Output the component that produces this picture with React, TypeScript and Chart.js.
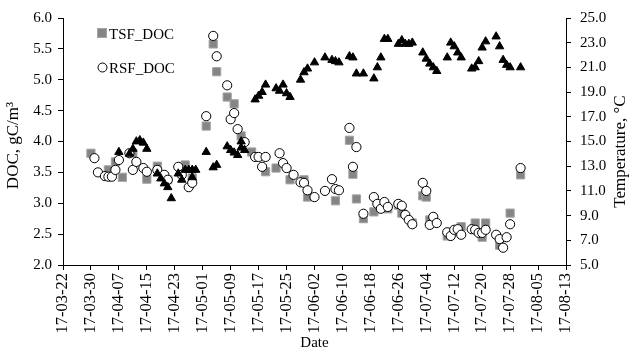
import React, { useEffect, useRef } from 'react';
import { Chart, registerables } from 'chart.js';

Chart.register(...registerables);

// ---------- data ----------
const xStartDate = '2017-03-22';
const xEndDate = '2017-08-13';
const xStepDays = 8;

const docMin = 2.0;
const docMax = 6.0;
const docStep = 0.5;
const tempMin = 5.0;
const tempMax = 25.0;
const tempStep = 2.0;

const tsfDates = [
  '2017-03-30', '2017-04-04', '2017-04-06', '2017-04-08', '2017-04-11', '2017-04-15', '2017-04-18', '2017-04-21',
  '2017-04-26', '2017-04-28', '2017-05-02', '2017-05-04', '2017-05-05', '2017-05-08', '2017-05-10', '2017-05-12',
  '2017-05-15', '2017-05-19', '2017-05-22', '2017-05-26', '2017-05-30', '2017-05-31', '2017-06-08', '2017-06-12',
  '2017-06-13', '2017-06-14', '2017-06-16', '2017-06-19', '2017-06-23', '2017-06-26', '2017-06-27', '2017-06-30',
  '2017-07-03', '2017-07-04', '2017-07-05', '2017-07-10', '2017-07-14', '2017-07-18', '2017-07-20', '2017-07-21',
  '2017-07-25', '2017-07-28', '2017-07-31',
];
const tsfDoc = [
  3.81, 3.54, 3.67, 3.42, 3.81, 3.39, 3.60, 3.38,
  3.62, 3.41, 4.25, 5.58, 5.13, 4.72, 4.61, 4.09,
  3.83, 3.51, 3.57, 3.38, 3.38, 3.10, 3.04, 4.02,
  3.47, 3.07, 2.75, 2.86, 2.91, 2.97, 2.84, 2.68,
  3.12, 3.10, 2.73, 2.47, 2.62, 2.68, 2.45, 2.68,
  2.32, 2.84, 3.46,
];

const rsfDates = [
  '2017-03-31', '2017-04-01', '2017-04-03', '2017-04-04', '2017-04-05', '2017-04-06', '2017-04-07', '2017-04-10',
  '2017-04-11', '2017-04-12', '2017-04-14', '2017-04-15', '2017-04-18', '2017-04-20', '2017-04-21', '2017-04-24',
  '2017-04-25', '2017-04-27', '2017-04-28', '2017-05-02', '2017-05-04', '2017-05-05', '2017-05-08', '2017-05-09',
  '2017-05-10', '2017-05-11', '2017-05-13', '2017-05-16', '2017-05-17', '2017-05-18', '2017-05-19', '2017-05-23',
  '2017-05-24', '2017-05-25', '2017-05-27', '2017-05-29', '2017-05-30', '2017-05-31', '2017-06-02', '2017-06-05',
  '2017-06-07', '2017-06-08', '2017-06-09', '2017-06-12', '2017-06-13', '2017-06-14', '2017-06-16', '2017-06-19',
  '2017-06-20', '2017-06-21', '2017-06-22', '2017-06-23', '2017-06-26', '2017-06-27', '2017-06-28', '2017-06-29',
  '2017-06-30', '2017-07-03', '2017-07-04', '2017-07-05', '2017-07-06', '2017-07-07', '2017-07-10', '2017-07-11',
  '2017-07-12', '2017-07-13', '2017-07-14', '2017-07-17', '2017-07-18', '2017-07-19', '2017-07-20', '2017-07-21',
  '2017-07-24', '2017-07-25', '2017-07-26', '2017-07-27', '2017-07-28', '2017-07-31',
];
const rsfDoc = [
  3.73, 3.50, 3.44, 3.43, 3.43, 3.54, 3.70, 3.81,
  3.54, 3.67, 3.57, 3.51, 3.54, 3.46, 3.38, 3.59,
  3.46, 3.26, 3.33, 4.41, 5.71, 5.38, 4.91, 4.36,
  4.46, 4.20, 3.99, 3.75, 3.75, 3.59, 3.75, 3.81,
  3.65, 3.57, 3.46, 3.34, 3.33, 3.21, 3.10, 3.20,
  3.39, 3.23, 3.21, 4.22, 3.59, 3.91, 2.83, 3.10,
  2.99, 2.91, 3.02, 2.94, 2.99, 2.96, 2.81, 2.73,
  2.66, 3.33, 3.20, 2.65, 2.78, 2.68, 2.53, 2.47,
  2.57, 2.58, 2.49, 2.58, 2.57, 2.52, 2.52, 2.57,
  2.49, 2.42, 2.28, 2.45, 2.66, 3.57,
];

const tempDates = [
  '2017-04-07', '2017-04-10', '2017-04-11', '2017-04-12', '2017-04-13', '2017-04-14', '2017-04-15', '2017-04-18',
  '2017-04-19', '2017-04-20', '2017-04-21', '2017-04-22', '2017-04-24', '2017-04-25', '2017-04-26', '2017-04-27',
  '2017-04-28', '2017-04-28', '2017-04-29', '2017-05-02', '2017-05-04', '2017-05-05', '2017-05-08', '2017-05-09',
  '2017-05-10', '2017-05-11', '2017-05-12', '2017-05-12', '2017-05-13', '2017-05-16', '2017-05-17', '2017-05-18',
  '2017-05-19', '2017-05-22', '2017-05-23', '2017-05-24', '2017-05-25', '2017-05-26', '2017-05-29', '2017-05-30',
  '2017-05-31', '2017-06-02', '2017-06-05', '2017-06-07', '2017-06-08', '2017-06-09', '2017-06-12', '2017-06-13',
  '2017-06-14', '2017-06-16', '2017-06-19', '2017-06-20', '2017-06-21', '2017-06-22', '2017-06-23', '2017-06-26',
  '2017-06-27', '2017-06-28', '2017-06-29', '2017-06-30', '2017-07-03', '2017-07-04', '2017-07-05', '2017-07-06',
  '2017-07-07', '2017-07-10', '2017-07-11', '2017-07-12', '2017-07-13', '2017-07-14', '2017-07-17', '2017-07-18',
  '2017-07-19', '2017-07-20', '2017-07-21', '2017-07-24', '2017-07-25', '2017-07-26', '2017-07-27', '2017-07-28',
  '2017-07-31',
];
const temperature = [
  14.15, 14.0, 14.4, 15.0, 15.1, 14.9, 14.4, 12.4,
  12.0, 11.6, 11.3, 10.4, 12.4, 11.9, 12.7, 12.7,
  12.7, 12.1, 12.7, 14.15, 12.9, 13.1, 14.6, 14.3,
  14.1, 13.9, 15.0, 14.5, 14.3, 18.4, 18.7, 19.0,
  19.6, 19.3, 19.1, 19.6, 18.9, 18.6, 20.0, 20.6,
  20.9, 21.4, 21.8, 21.6, 21.5, 21.4, 21.9, 21.8,
  20.5, 20.5, 20.1, 21.0, 21.8, 23.3, 23.3, 22.9,
  23.2, 22.9, 22.9, 23.0, 22.2, 21.7, 21.3, 21.0,
  20.7, 21.8, 23.0, 22.7, 22.2, 21.8, 20.9, 21.0,
  21.5, 22.6, 23.1, 23.5, 22.7, 21.6, 21.2, 21.0,
  21.0,
];

// ---------- helpers ----------
const DAY = 86400000;
const toUtc = (s: string) => {
  const [y, m, d] = s.split('-').map(Number);
  return Date.UTC(y, m - 1, d);
};
const origin = toUtc(xStartDate);
const dayOf = (s: string) => Math.round((toUtc(s) - origin) / DAY);
const fmtTick = (v: number) => {
  const d = new Date(origin + v * DAY);
  const yy = String(d.getUTCFullYear()).slice(2);
  const mm = String(d.getUTCMonth() + 1).padStart(2, '0');
  const dd = String(d.getUTCDate()).padStart(2, '0');
  return `${yy}-${mm}-${dd}`;
};
const pts = (dates: string[], vals: number[]) => dates.map((d, i) => ({ x: dayOf(d), y: vals[i] }));

const SERIF = '"Liberation Serif", "Times New Roman", serif';
const GREY = '#858585';
const GREY_EDGE = '#a5a5a5';

const overlayPlugin = {
  id: 'overlay',
  afterDraw(chart: any) {
    const { ctx, chartArea } = chart;
    const midY = (chartArea.top + chartArea.bottom) / 2;
    ctx.save();
    ctx.fillStyle = '#000';
    // left title
    ctx.font = `17px ${SERIF}`;
    ctx.textAlign = 'center';
    ctx.textBaseline = 'middle';
    ctx.save();
    ctx.translate(14, midY + 4);
    ctx.rotate(-Math.PI / 2);
    ctx.fillText('DOC, gC/m³', 0, 0);
    ctx.restore();
    // right title
    ctx.save();
    ctx.translate(621, midY + 10);
    ctx.rotate(-Math.PI / 2);
    ctx.fillText('Temperature, °C', 0, 0);
    ctx.restore();
    // bottom title
    ctx.font = `15px ${SERIF}`;
    ctx.fillText('Date', (chartArea.left + chartArea.right) / 2, 343);

    // legend
    const lx = chartArea.left + 39;
    ctx.fillStyle = GREY;
    ctx.fillRect(lx - 4.5, 28.5, 9, 9);
    ctx.strokeStyle = GREY_EDGE;
    ctx.lineWidth = 1;
    ctx.strokeRect(lx - 4.5, 28.5, 9, 9);
    ctx.beginPath();
    ctx.arc(lx + 0.5, 67.5, 4.5, 0, Math.PI * 2);
    ctx.fillStyle = '#fff';
    ctx.fill();
    ctx.strokeStyle = '#000';
    ctx.stroke();
    ctx.fillStyle = '#000';
    ctx.font = `15px ${SERIF}`;
    ctx.textAlign = 'left';
    ctx.textBaseline = 'alphabetic';
    ctx.fillText('TSF_DOC', lx + 7, 38.5);
    ctx.fillText('RSF_DOC', lx + 7, 72.5);
    ctx.restore();
  },
};

export default function App() {
  const ref = useRef<HTMLCanvasElement>(null);

  useEffect(() => {
    if (!ref.current) return;
    Chart.defaults.font.family = SERIF;
    Chart.defaults.color = '#000';
    const axisGrid = { drawOnChartArea: false, drawTicks: true, tickLength: 5, color: '#000', lineWidth: 1 };
    const axisBorder = { display: true, color: '#000', width: 1 };
    const chart = new Chart(ref.current, {
      type: 'scatter',
      data: {
        datasets: [
          {
            label: 'Temperature',
            data: pts(tempDates, temperature),
            yAxisID: 'y1',
            pointStyle: 'triangle',
            pointRadius: 4.8,
            backgroundColor: '#000',
            borderColor: '#000',
            borderWidth: 1,
            order: 0,
          },
          {
            label: 'RSF_DOC',
            data: pts(rsfDates, rsfDoc),
            yAxisID: 'y',
            pointStyle: 'circle',
            pointRadius: 4.6,
            backgroundColor: '#fff',
            borderColor: '#000',
            borderWidth: 1,
            order: 1,
          },
          {
            label: 'TSF_DOC',
            data: pts(tsfDates, tsfDoc),
            yAxisID: 'y',
            pointStyle: 'rect',
            pointRadius: 5.8,
            backgroundColor: GREY,
            borderColor: GREY_EDGE,
            borderWidth: 1,
            order: 2,
          },
        ],
      },
      options: {
        responsive: false,
        animation: false,
        events: [],
        layout: { padding: { top: 18, left: 0, right: 0, bottom: 0 } },
        plugins: { legend: { display: false }, tooltip: { enabled: false }, title: { display: false } },
        scales: {
          x: {
            type: 'linear',
            position: 'bottom',
            min: 0,
            max: dayOf(xEndDate),
            grid: axisGrid,
            border: axisBorder,
            ticks: {
              stepSize: xStepDays,
              autoSkip: false,
              minRotation: 90,
              maxRotation: 90,
              padding: 3,
              font: { size: 16.5, family: SERIF },
              color: '#000',
              callback: (v: any) => fmtTick(Number(v)),
            },
            afterFit: (s: any) => { s.height = 84; },
          },
          y: {
            type: 'linear',
            position: 'left',
            min: docMin,
            max: docMax,
            grid: axisGrid,
            border: axisBorder,
            ticks: {
              stepSize: docStep,
              padding: 6,
              font: { size: 15, family: SERIF },
              color: '#000',
              callback: (v: any) => Number(v).toFixed(1),
            },
            afterFit: (s: any) => { s.width = 63; },
          },
          y1: {
            type: 'linear',
            position: 'right',
            min: tempMin,
            max: tempMax,
            grid: axisGrid,
            border: axisBorder,
            ticks: {
              stepSize: tempStep,
              padding: 9,
              font: { size: 15, family: SERIF },
              color: '#000',
              callback: (v: any) => Number(v).toFixed(1),
            },
            afterFit: (s: any) => { s.width = 63; },
          },
        },
      },
      plugins: [overlayPlugin],
    });
    return () => chart.destroy();
  }, []);

  return (
    <div style={{ position: 'fixed', left: 0, top: 0, width: 629, height: 349, background: '#fff' }}>
      <canvas ref={ref} width={629} height={349} style={{ display: 'block' }} />
    </div>
  );
}
